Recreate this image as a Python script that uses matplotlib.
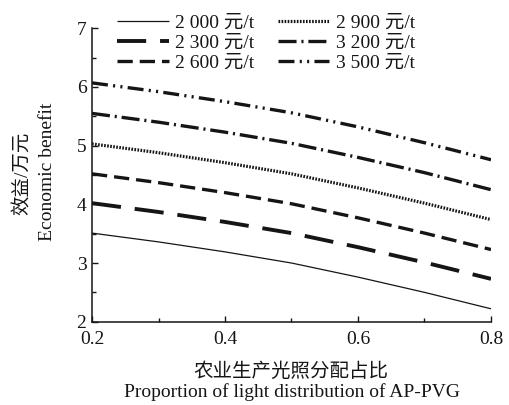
import matplotlib

matplotlib.use("Agg")
import matplotlib.pyplot as plt
from matplotlib.ticker import MultipleLocator

plt.rcParams["font.family"] = ["Liberation Serif", "Noto Sans CJK SC"]
plt.rcParams["lines.scale_dashes"] = False
plt.rcParams["axes.unicode_minus"] = False

# proportion of light allocated to farming (x) and benefit in 10k yuan (y)
share = [0.2, 0.3, 0.4, 0.5, 0.6, 0.7, 0.8]
benefit_2000 = [3.51, 3.36, 3.19, 3.00, 2.76, 2.50, 2.22]
benefit_2300 = [4.02, 3.87, 3.70, 3.51, 3.27, 3.01, 2.73]
benefit_2600 = [4.52, 4.37, 4.20, 4.01, 3.77, 3.51, 3.23]
benefit_2900 = [5.03, 4.88, 4.71, 4.52, 4.28, 4.02, 3.74]
benefit_3200 = [5.55, 5.40, 5.23, 5.04, 4.80, 4.54, 4.25]
benefit_3500 = [6.07, 5.92, 5.75, 5.56, 5.32, 5.05, 4.76]
price_labels = ["2 000 元/t", "2 300 元/t", "2 600 元/t", "2 900 元/t", "3 200 元/t", "3 500 元/t"]

ink = "#151515"
styles = [
    (0.9, "-"),
    (2.8, (0, (21, 10))),
    (2.4, (0, (11, 5))),
    (2.3, (0, (1.2, 1.0))),
    (2.4, (0, (13, 3.5, 1.5, 3.5))),
    (2.4, (0, (11.5, 3.8, 1.5, 3.8, 1.5, 3.8))),
]
series = [benefit_2000, benefit_2300, benefit_2600, benefit_2900, benefit_3200, benefit_3500]

fig = plt.figure(figsize=(5.09, 4.05), dpi=100)
ax = fig.add_axes([92 / 509, 1 - 321.7 / 405, (491 - 92) / 509, (321.7 - 28.3) / 405])

for values, label, (lw, ls) in zip(series, price_labels, styles):
    ax.plot(share, values, color=ink, linewidth=lw, linestyle=ls, label=label, solid_capstyle="butt")

ax.set_xlim(0.2, 0.8)
ax.set_ylim(2, 7)
ax.xaxis.set_minor_locator(MultipleLocator(0.1))
ax.yaxis.set_minor_locator(MultipleLocator(0.5))
ax.set_xticks([0.2, 0.4, 0.6, 0.8])
ax.set_xticklabels(["0.2", "0.4", "0.6", "0.8"])
ax.set_yticks([2, 3, 4, 5, 6, 7])
ax.set_yticklabels(["2", "3", "4", "5", "6", "7"])
ax.tick_params(which="major", direction="in", length=4.5, width=1.0, labelsize=14, colors=ink)
ax.tick_params(which="minor", direction="in", length=2.8, width=1.0, colors=ink)
ax.tick_params(axis="x", which="major", pad=7)
ax.tick_params(axis="y", which="major", pad=4)
for side in ["top", "right"]:
    ax.spines[side].set_visible(False)
for side in ["left", "bottom"]:
    ax.spines[side].set_linewidth(1.1)
    ax.spines[side].set_color(ink)

leg = fig.legend(
    loc="upper left",
    bbox_to_anchor=(117 / 509, 1 - 14 / 405),
    ncol=2,
    frameon=False,
    fontsize=14,
    handlelength=2.65,
    handletextpad=0.35,
    columnspacing=1.2,
    labelspacing=0.13,
    borderpad=0,
    borderaxespad=0,
)
for text in leg.get_texts():
    text.set_color(ink)

fig.text(291 / 509, 1 - 372 / 405, "农业生产光照分配占比", ha="center", va="center", fontsize=14, color=ink)
fig.text(292 / 509, 1 - 392 / 405, "Proportion of light distribution of AP-PVG", ha="center", va="center", fontsize=14, color=ink)
fig.text(22 / 509, 1 - 173 / 405, "效益/万元", ha="center", va="center", rotation=90, fontsize=14, color=ink)
fig.text(47 / 509, 1 - 172 / 405, "Economic benefit", ha="center", va="center", rotation=90, fontsize=14, color=ink)

fig.savefig("out.png", dpi=100)
